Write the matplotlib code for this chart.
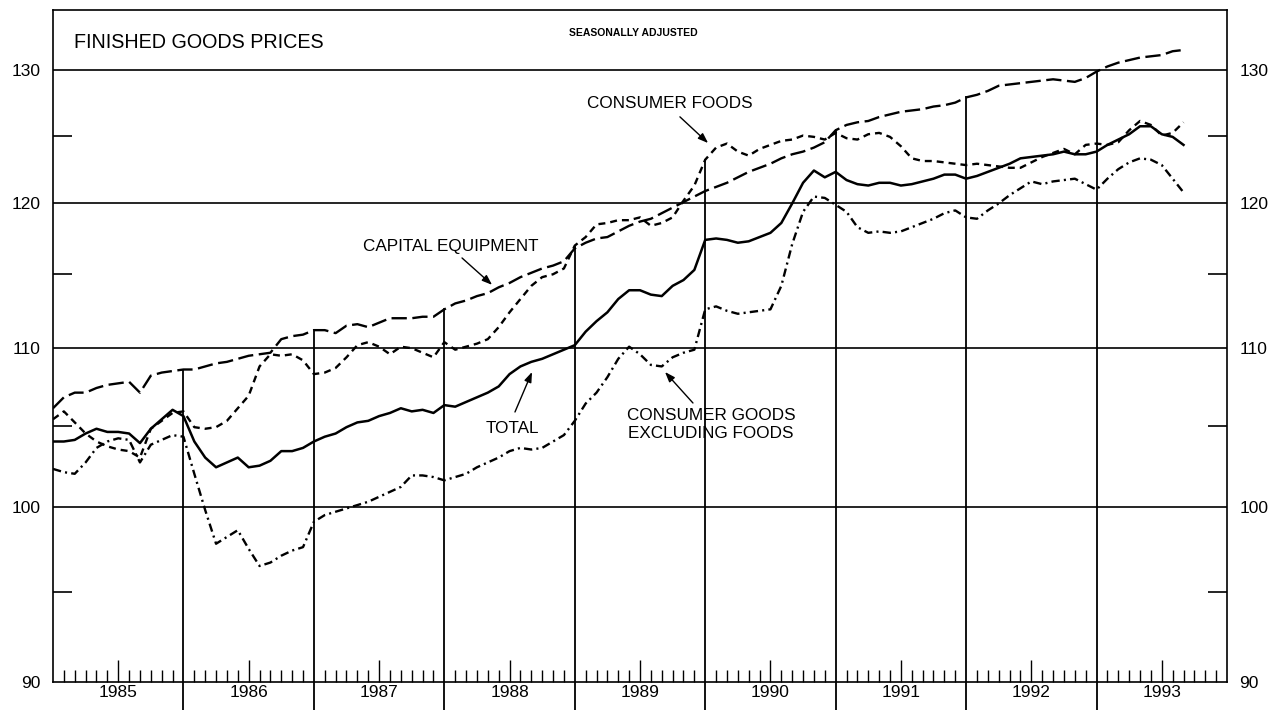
import numpy as np
import matplotlib
matplotlib.use("Agg")
import matplotlib.pyplot as plt
from matplotlib.ticker import FixedLocator, NullFormatter, FixedFormatter

plt.rcParams['font.family'] = ['Liberation Sans', 'DejaVu Sans']
plt.rcParams['lines.scale_dashes'] = False

# ---------------- data (monthly, Jan 1985 .. Sep 1993) ----------------
start_year = 1985
end_year = 1994

total = [
    104.0, 104.0, 104.1, 104.5, 104.8, 104.6, 104.6, 104.5, 103.9, 104.8, 105.4, 106.0,
    105.6, 104.0, 103.0, 102.4, 102.7, 103.0, 102.4, 102.5, 102.8, 103.4, 103.4, 103.6,
    104.0, 104.3, 104.5, 104.9, 105.2, 105.3, 105.6, 105.8, 106.1, 105.9, 106.0, 105.8,
    106.3, 106.2, 106.5, 106.8, 107.1, 107.5, 108.3, 108.8, 109.1, 109.3, 109.6, 109.9,
    110.2, 111.1, 111.8, 112.4, 113.3, 113.9, 113.9, 113.6, 113.5, 114.2, 114.6, 115.3,
    117.4, 117.5, 117.4, 117.2, 117.3, 117.6, 117.9, 118.6, 120.0, 121.5, 122.4, 121.9,
    122.3, 121.7, 121.4, 121.3, 121.5, 121.5, 121.3, 121.4, 121.6, 121.8, 122.1, 122.1,
    121.8, 122.0, 122.3, 122.6, 122.9, 123.3, 123.4, 123.5, 123.6, 123.8, 123.6, 123.6,
    123.8, 124.3, 124.7, 125.1, 125.7, 125.7, 125.1, 124.9, 124.3,
]

capital_equipment = [
    106.1, 106.8, 107.1, 107.1, 107.4, 107.6, 107.7, 107.8, 107.1, 108.2, 108.4, 108.5,
    108.6, 108.6, 108.8, 109.0, 109.1, 109.3, 109.5, 109.6, 109.7, 110.6, 110.8, 110.9,
    111.2, 111.2, 111.0, 111.5, 111.6, 111.4, 111.7, 112.0, 112.0, 112.0, 112.1, 112.1,
    112.6, 113.0, 113.2, 113.5, 113.7, 114.1, 114.4, 114.8, 115.1, 115.4, 115.6, 115.9,
    116.8, 117.2, 117.5, 117.6, 118.0, 118.4, 118.7, 118.9, 119.3, 119.7, 120.1, 120.5,
    120.9, 121.2, 121.5, 121.9, 122.3, 122.6, 122.9, 123.3, 123.6, 123.8, 124.1, 124.5,
    125.4, 125.8, 126.0, 126.1, 126.4, 126.6, 126.8, 126.9, 127.0, 127.2, 127.3, 127.5,
    127.9, 128.1, 128.4, 128.8, 128.9, 129.0, 129.1, 129.2, 129.3, 129.2, 129.1, 129.4,
    129.9, 130.3, 130.6, 130.8, 131.0, 131.1, 131.2, 131.5, 131.6,
]

consumer_foods = [
    105.4, 105.9, 105.2, 104.5, 104.0, 103.7, 103.5, 103.4, 103.0, 104.8, 105.3, 105.8,
    105.9, 104.9, 104.8, 104.9, 105.3, 106.1, 106.9, 108.8, 109.6, 109.5, 109.6, 109.2,
    108.3, 108.4, 108.7, 109.4, 110.2, 110.4, 110.1, 109.6, 110.1, 110.0, 109.7, 109.4,
    110.4, 109.9, 110.1, 110.3, 110.6, 111.4, 112.4, 113.3, 114.2, 114.8, 115.0, 115.4,
    117.0, 117.6, 118.5, 118.6, 118.8, 118.8, 119.0, 118.4, 118.6, 119.0, 120.2, 121.3,
    123.2, 124.1, 124.4, 123.8, 123.5, 124.0, 124.3, 124.6, 124.7, 125.0, 124.9, 124.7,
    125.2, 124.8, 124.7, 125.1, 125.2, 124.9, 124.2, 123.3, 123.1, 123.1, 123.0, 122.9,
    122.8, 122.9, 122.8, 122.7, 122.6, 122.6, 123.0, 123.4, 123.7, 124.0, 123.6, 124.3,
    124.4, 124.3, 124.5, 125.4, 126.1, 125.8, 125.0, 125.2, 126.0,
]

consumer_goods_ex_foods = [
    102.3, 102.1, 102.0, 102.7, 103.6, 104.0, 104.2, 104.1, 102.7, 103.8, 104.1, 104.4,
    104.3, 102.0, 99.8, 97.8, 98.2, 98.6, 97.5, 96.5, 96.7, 97.1, 97.4, 97.6,
    99.1, 99.5, 99.7, 99.9, 100.1, 100.3, 100.6, 100.9, 101.2, 101.9, 101.9, 101.8,
    101.6, 101.8, 102.0, 102.4, 102.7, 103.0, 103.4, 103.6, 103.5, 103.6, 104.0, 104.4,
    105.3, 106.4, 107.1, 108.1, 109.3, 110.1, 109.6, 108.9, 108.8, 109.4, 109.7, 109.9,
    112.6, 112.8, 112.5, 112.3, 112.4, 112.5, 112.6, 114.2, 117.1, 119.4, 120.5, 120.4,
    119.9, 119.4, 118.3, 117.9, 118.0, 117.9, 118.0, 118.3, 118.6, 118.9, 119.3, 119.5,
    119.0, 118.9, 119.5, 120.0, 120.6, 121.1, 121.6, 121.4, 121.6, 121.7, 121.8, 121.4,
    121.0, 121.8, 122.5, 123.0, 123.3, 123.2, 122.8, 121.8, 120.8,
]

year_labels = [str(y) for y in range(start_year, end_year)]
y_major = [90, 100, 110, 120, 130]
y_grid = [100, 110, 120, 130]
y_minor = [95, 105, 115, 125]

title_text = "FINISHED GOODS PRICES"
subtitle_text = "SEASONALLY ADJUSTED"

# ---------------- figure ----------------
W, H = 1272, 710
fig = plt.figure(figsize=(W / 100, H / 100), dpi=100)
ax = fig.add_axes([53 / W, 1 - 682 / H, (1227 - 53) / W, (682 - 10) / H])

t = start_year + np.arange(len(total)) / 12.0
ymin, ymax = 90, 134.8

ax.set_yscale('log')
ax.set_xlim(start_year, end_year)
ax.set_ylim(ymin, ymax)

# grid lines
for g in y_grid:
    ax.axhline(g, color='black', lw=1.2, zorder=1)

# series
ax.plot(t, total, color='black', lw=1.8, solid_joinstyle='round', zorder=4)
ax.plot(t, capital_equipment, color='black', lw=1.7, dashes=(11, 4), zorder=4)
ax.plot(t, consumer_foods, color='black', lw=1.7, dashes=(5, 3.6), zorder=4)
ax.plot(t, consumer_goods_ex_foods, color='black', lw=1.7,
        dashes=(6, 3, 1.5, 3), zorder=4)

# year separator lines: from below axis up to highest series
series = np.array([total, capital_equipment, consumer_foods, consumer_goods_ex_foods])
y_below = ymin * (ymax / ymin) ** (-0.045)
for k in range(1, end_year - start_year):
    idx = 12 * k
    top = series[:, idx].max()
    ax.plot([start_year + k, start_year + k], [y_below, top], color='black',
            lw=1.3, clip_on=False, zorder=3)

# y axis ticks / labels both sides
ax.yaxis.set_major_locator(FixedLocator(y_major))
ax.yaxis.set_major_formatter(FixedFormatter([str(v) for v in y_major]))
ax.yaxis.set_minor_locator(FixedLocator(y_minor))
ax.yaxis.set_minor_formatter(NullFormatter())
ax.tick_params(axis='y', which='major', length=0, labelsize=12.5, pad=9,
               left=True, right=True, labelleft=True, labelright=True)
ax.tick_params(axis='y', which='minor', direction='in', length=14, width=1.2,
               left=True, right=True)

# x axis: month ticks, tall tick at mid-year with year label
ax.xaxis.set_major_locator(FixedLocator([start_year + i + 0.5 for i in range(len(year_labels))]))
ax.xaxis.set_major_formatter(FixedFormatter(year_labels))
months = [start_year + m / 12 for m in range(12 * (end_year - start_year))
          if m % 12 not in (0, 6)]
ax.xaxis.set_minor_locator(FixedLocator(months))
ax.xaxis.set_minor_formatter(NullFormatter())
ax.tick_params(axis='x', which='major', direction='in', length=15.5, width=1.0,
               labelsize=12.5, pad=2.5, top=False)
ax.tick_params(axis='x', which='minor', direction='in', length=8.4, width=1.0, top=False)

for s in ax.spines.values():
    s.set_linewidth(1.2)

# titles
ax.text(0.018, 0.951, title_text, transform=ax.transAxes, fontsize=14.2,
        ha='left', va='center')
ax.text(0.494, 0.966, subtitle_text, transform=ax.transAxes, fontsize=7.5,
        ha='center', va='center', fontweight='bold')

# annotations
arrow = dict(arrowstyle='-|>,head_length=0.6,head_width=0.22', color='black',
             lw=1.0, shrinkA=0, shrinkB=0)
ax.text(0.5256, 0.8616, "CONSUMER FOODS", transform=ax.transAxes, fontsize=12.3,
        ha='center', va='center')
ax.annotate("", xy=(0.558, 0.802), xytext=(0.534, 0.841),
            xycoords='axes fraction', textcoords='axes fraction', arrowprops=arrow)

ax.text(0.339, 0.6488, "CAPITAL EQUIPMENT", transform=ax.transAxes, fontsize=12.3,
        ha='center', va='center')
ax.annotate("", xy=(0.374, 0.591), xytext=(0.3484, 0.631),
            xycoords='axes fraction', textcoords='axes fraction', arrowprops=arrow)

ax.text(0.391, 0.3765, "TOTAL", transform=ax.transAxes, fontsize=12.3,
        ha='center', va='center')
ax.annotate("", xy=(0.408, 0.4613), xytext=(0.3935, 0.4018),
            xycoords='axes fraction', textcoords='axes fraction', arrowprops=arrow)

ax.text(0.5605, 0.3832, "CONSUMER GOODS\nEXCLUDING FOODS", transform=ax.transAxes,
        fontsize=12.3, ha='center', va='center', linespacing=1.2)
ax.annotate("", xy=(0.5213, 0.4613), xytext=(0.5451, 0.4152),
            xycoords='axes fraction', textcoords='axes fraction', arrowprops=arrow)

fig.savefig("out.png", dpi=100, facecolor='white')
